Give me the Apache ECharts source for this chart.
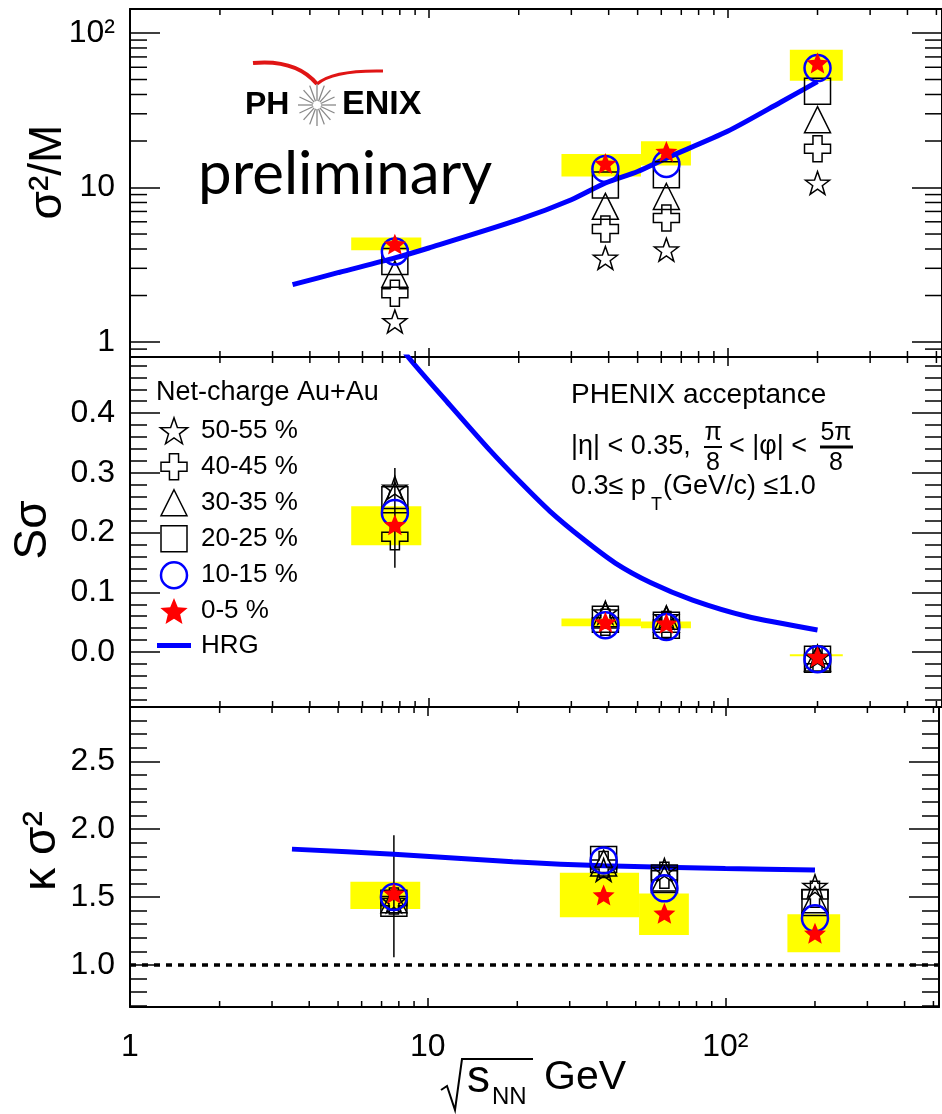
<!DOCTYPE html>
<html>
<head>
<meta charset="utf-8">
<script src="https://cdn.jsdelivr.net/npm/echarts@6/dist/echarts.min.js"></script>
<style>
html,body{margin:0;padding:0;background:#fff;}
#chart{width:942px;height:1114px;}
</style>
</head>
<body>
<div id="chart"></div>
<script>
// beam energies, GeV
const energies = [7.7, 39, 62.4, 200];
const centralities = ['50-55 %', '40-45 %', '30-35 %', '20-25 %', '10-15 %', '0-5 %'];

// sigma^2/M
const s2m_c50 = [1.36, 3.5, 3.96, 10.7];
const s2m_c40 = [2.07, 5.39, 6.35, 17.8];
const s2m_c30 = [2.75, 7.55, 8.75, 27.5];
const s2m_c20 = [3.32, 10.4, 12.1, 41.9];
const s2m_c10 = [3.85, 13.2, 14.2, 59.3];
const s2m_c0 = [4.3, 14.3, 17.1, 64];
const s2mSysLo = [3.92, 11.8, 13.9, 49.1];
const s2mSysHi = [4.75, 16.5, 19.9, 78];
const hrgX_s2m = [3.5, 5, 7.7, 10, 20, 30, 39, 50, 62.4, 100, 150, 200];
const hrgY_s2m = [2.35, 2.82, 3.5, 4.06, 6.19, 8.34, 10.7, 12.7, 15.5, 23.1, 35.5, 48.5];

// S sigma
const ss_c50 = [0.275, 0.066, 0.058, -0.008];
const ss_c40 = [0.193, 0.05, 0.046, -0.012];
const ss_c30 = [0.262, 0.062, 0.055, -0.01];
const ss_c20 = [0.255, 0.055, 0.045, -0.012];
const ss_c10 = [0.233, 0.045, 0.042, -0.012];
const ss_c0 = [0.213, 0.05, 0.048, -0.008];
const ssSysLo = [0.179, 0.043, 0.040, -0.0065];
const ssSysHi = [0.244, 0.056, 0.051, -0.0035];
const ssErr = [[7.7, 0.141, 0.308]];
const hrgX_ss = [7.9, 8.53, 11.6, 16.0, 20.2, 25.4, 32.7, 42.1, 55.4, 76.4, 115.7, 200];
const hrgY_ss = [0.52, 0.494, 0.417, 0.338, 0.285, 0.236, 0.19, 0.149, 0.116, 0.087, 0.060, 0.037];

// kappa sigma^2
const ks_c50 = [1.47, 1.70, 1.70, 1.58];
const ks_c40 = [1.47, 1.74, 1.66, 1.52];
const ks_c30 = [1.48, 1.75, 1.63, 1.48];
const ks_c20 = [1.454, 1.777, 1.64, 1.46];
const ks_c10 = [1.50, 1.77, 1.564, 1.343];
const ks_c0 = [1.527, 1.515, 1.38, 1.233];
const ksSysLo = [1.412, 1.351, 1.221, 1.093];
const ksSysHi = [1.613, 1.679, 1.527, 1.373];
const ksErr = [[7.7, 1.057, 1.956]];
const hrgX_ks = [3.5, 7.7, 19.3, 39, 100, 200];
const hrgY_ks = [1.853, 1.816, 1.76, 1.73, 1.711, 1.699];

// box widths along x (same for all panels)
const sysXLo = [5.5, 27.8, 51.3, 161.6];
const sysXHi = [9.44, 51.3, 75.4, 243];

// minor ticks on the log axes
const xMinorTicks = [2, 3, 4, 5, 6, 7, 8, 9, 20, 30, 40, 50, 60, 70, 80, 90, 200, 300, 400, 500];
const yMinorTicks = [0.9, 2, 3, 4, 5, 6, 7, 8, 9, 20, 30, 40, 50, 60, 70, 80, 90];

const FONT = '"Liberation Sans", Arial, sans-serif';
const X_MAX = 522;

const STAR = 'path://M0,-10L2.35,-3.24L9.51,-3.09L3.8,1.24L5.88,8.09L0,4L-5.88,8.09L-3.8,1.24L-9.51,-3.09L-2.35,-3.24Z';
const FSTAR = 'path://M0,-10L2.65,-3.64L9.51,-3.09L4.28,1.39L5.88,8.09L0,4.5L-5.88,8.09L-4.28,1.39L-9.51,-3.09L-2.65,-3.64Z';
const CROSS = 'path://M-3.5,-10L3.5,-10L3.5,-3.5L10,-3.5L10,3.5L3.5,3.5L3.5,10L-3.5,10L-3.5,3.5L-10,3.5L-10,-3.5L-3.5,-3.5Z';
const TRI = 'path://M0,-10L10,10L-10,10Z';
const SQR = 'path://M-10,-10L10,-10L10,10L-10,10Z';
const BAR = 'path://M0,0L34,0L34,5L0,5Z';

const open = {color: 'rgba(0,0,0,0)', borderColor: '#000', borderWidth: 1.5, opacity: 1};
const markers = [
  {symbol: STAR, size: 24, style: open},
  {symbol: CROSS, size: 26, style: open},
  {symbol: TRI, size: 26, style: open},
  {symbol: SQR, size: 26, style: open},
  {symbol: 'circle', size: 26, style: {color: 'rgba(0,0,0,0)', borderColor: '#0000ff', borderWidth: 2.5, opacity: 1}},
  {symbol: FSTAR, size: 22, style: {color: '#ff0000', borderWidth: 0, opacity: 1}}
];

const panels = [
  {vals: [s2m_c50, s2m_c40, s2m_c30, s2m_c20, s2m_c10, s2m_c0], lo: s2mSysLo, hi: s2mSysHi,
   hx: hrgX_s2m, hy: hrgY_s2m, err: [], refY: 1},
  {vals: [ss_c50, ss_c40, ss_c30, ss_c20, ss_c10, ss_c0], lo: ssSysLo, hi: ssSysHi,
   hx: hrgX_ss, hy: hrgY_ss, err: ssErr, refY: 0},
  {vals: [ks_c50, ks_c40, ks_c30, ks_c20, ks_c10, ks_c0], lo: ksSysLo, hi: ksSysHi,
   hx: hrgX_ks, hy: hrgY_ks, err: ksErr, refY: 1}
];

const grids = [
  {left: 130, top: 9, width: 818, height: 348},
  {left: 130, top: 357, width: 818, height: 350},
  {left: 130, top: 707, width: 818, height: 300}
];

function logLabel(v) {
  const e = Math.log10(v), r = Math.round(e);
  if (Math.abs(e - r) > 1e-6) return '';
  return r === 0 ? '1' : r === 1 ? '10' : '10²';
}
function linLabelFor(r) {
  return function (v) {
    if (Math.abs(v - r.min) < 1e-9 || Math.abs(v - r.max) < 1e-9) return '';
    return Math.abs(v * 10 - Math.round(v * 10)) < 1e-6 ? v.toFixed(1) : '';
  };
}

const tickStyle = {color: '#000', width: 1.5};
const lineAx = {show: true, onZero: false, lineStyle: {color: '#000', width: 2}};

const xAxis = [];
for (const pos of ['bottom', 'top']) {
  grids.forEach((g, i) => {
    xAxis.push({
      type: 'log', gridIndex: i, position: pos, min: 1, max: X_MAX,
      axisLine: lineAx,
      axisTick: {show: true, inside: true, length: 9, lineStyle: tickStyle},
      axisLabel: {show: pos === 'bottom' && i === 2, margin: 24, fontSize: 32, color: '#000', fontFamily: FONT, formatter: logLabel},
      splitLine: {show: false}
    });
  });
}

const yRanges = [
  {type: 'log', min: 0.8, max: 143},
  {type: 'value', min: -0.092, max: 0.494, splitNumber: 5},
  {type: 'value', min: 0.69, max: 2.9, splitNumber: 4}
];
const yAxis = [];
for (const pos of ['left', 'right']) {
  yRanges.forEach((r, i) => {
    yAxis.push(Object.assign({}, r, {
      gridIndex: i, position: pos,
      axisLine: lineAx,
      axisTick: {show: true, inside: true, length: 30, lineStyle: tickStyle},
      minorTick: {show: r.type === 'value', splitNumber: 5, length: 17, lineStyle: tickStyle},
      axisLabel: {show: pos === 'left', margin: 15, fontSize: 32, color: '#000', fontFamily: FONT,
        formatter: r.type === 'log' ? logLabel : linLabelFor(r)},
      splitLine: {show: false}
    }));
  });
}

function boxItem(params, api) {
  const p1 = api.coord([api.value(0), api.value(3)]);
  const p2 = api.coord([api.value(1), api.value(2)]);
  return {type: 'rect', shape: {x: p1[0], y: p1[1], width: p2[0] - p1[0], height: Math.max(p2[1] - p1[1], 2)},
    style: {fill: '#ffff00'}};
}
function errItem(params, api) {
  const a = api.coord([api.value(0), api.value(1)]);
  const b = api.coord([api.value(0), api.value(2)]);
  return {type: 'line', shape: {x1: a[0], y1: a[1], x2: b[0], y2: b[1]}, style: {stroke: '#000', lineWidth: 1.5}};
}
function xMinorItem(params, api) {
  const cs = params.coordSys;
  const x = api.coord([api.value(0), api.value(1)])[0];
  if (x > cs.x + cs.width - 1) return null;
  const b = cs.y + cs.height;
  return {type: 'group', children: [
    {type: 'line', shape: {x1: x, y1: b, x2: x, y2: b - 6}, style: {stroke: '#000', lineWidth: 1.5}},
    {type: 'line', shape: {x1: x, y1: cs.y, x2: x, y2: cs.y + 6}, style: {stroke: '#000', lineWidth: 1.5}}
  ]};
}
function yMinorItem(params, api) {
  const cs = params.coordSys;
  const y = api.coord([api.value(0), api.value(1)])[1];
  const r = cs.x + cs.width;
  return {type: 'group', children: [
    {type: 'line', shape: {x1: cs.x, y1: y, x2: cs.x + 17, y2: y}, style: {stroke: '#000', lineWidth: 1.5}},
    {type: 'line', shape: {x1: r - 17, y1: y, x2: r, y2: y}, style: {stroke: '#000', lineWidth: 1.5}}
  ]};
}

const series = [];
panels.forEach((p, i) => {
  const ax = {xAxisIndex: i, yAxisIndex: i};
  series.push(Object.assign({
    type: 'custom', name: 'minorX' + i, renderItem: xMinorItem, silent: true, z: 5,
    encode: {x: 0, y: 1}, data: xMinorTicks.map(v => [v, p.refY])
  }, ax));
  series.push(Object.assign({
    type: 'custom', name: 'sys' + i, renderItem: boxItem, silent: true, z: 1,
    encode: {x: [0, 1], y: [2, 3]},
    data: energies.map((e, k) => [sysXLo[k], sysXHi[k], p.lo[k], p.hi[k]])
  }, ax));
  if (p.err.length) {
    series.push(Object.assign({
      type: 'custom', name: 'err' + i, renderItem: errItem, silent: true, z: 2,
      encode: {x: 0, y: [1, 2]}, data: p.err
    }, ax));
  }
  const scat = (c) => Object.assign({
    type: 'scatter', name: centralities[c], symbol: markers[c].symbol, symbolSize: markers[c].size,
    symbolKeepAspect: true, itemStyle: markers[c].style, z: 3,
    data: energies.map((e, k) => [e, p.vals[c][k]])
  }, ax);
  [0, 1, 2, 3].forEach(c => series.push(scat(c)));
  const hrg = Object.assign({
    type: 'line', name: 'HRG', showSymbol: false, symbol: 'none', smooth: 0.25, clip: true, z: 3,
    lineStyle: {color: '#0000ff', width: 5}, itemStyle: {color: '#0000ff'},
    data: p.hx.map((x, k) => [x, p.hy[k]])
  }, ax);
  if (i === 2) {
    hrg.markLine = {silent: true, symbol: 'none', label: {show: false},
      lineStyle: {color: '#000', type: [6, 6], width: 3.5}, data: [{yAxis: 1}]};
  }
  series.push(hrg);
  [4, 5].forEach(c => series.push(scat(c)));
});
series.push({
  type: 'custom', name: 'minorY', renderItem: yMinorItem, silent: true, z: 5,
  xAxisIndex: 0, yAxisIndex: 0, encode: {x: 0, y: 1}, data: yMinorTicks.map(v => [10, v])
});

const legendData = centralities.map((n, c) => ({
  name: n, icon: markers[c].symbol,
  itemStyle: Object.assign({}, markers[c].style)
})).concat([{name: 'HRG', icon: BAR, itemStyle: {color: '#0000ff', borderWidth: 0}}]);

const txt = (x, y, text, size, extra) => Object.assign({
  type: 'text', x: x, y: y, silent: true,
  style: {text: text, font: size + 'px ' + FONT, fill: '#000', align: 'left', verticalAlign: 'middle'}
}, extra || {});
const ctxt = (x, y, text, font, rot) => ({
  type: 'text', x: x, y: y, silent: true, rotation: rot || 0,
  style: {text: text, font: font, fill: '#000', align: 'center', verticalAlign: 'middle'}
});

const graphic = [
  // axis titles
  ctxt(48, 172, 'σ²/M', '46px ' + FONT, Math.PI / 2),
  ctxt(33, 530, 'Sσ', '46px ' + FONT, Math.PI / 2),
  ctxt(42, 851, 'κ σ²', '46px ' + FONT, Math.PI / 2),
  // x title with radical
  {type: 'polyline', silent: true, shape: {points: [[441, 1090], [447, 1086], [455, 1110], [462, 1059], [533, 1059]]},
    style: {stroke: '#000', lineWidth: 2, fill: null}},
  txt(467, 1079, 's', 46),
  txt(492, 1097, 'NN', 24),
  txt(544, 1078, 'GeV', 41),
  // legend header
  txt(156, 393, 'Net-charge Au+Au', 27),
  // acceptance text
  txt(571, 395, 'PHENIX acceptance', 28),
  txt(571, 447, '|η| < 0.35,', 27),
  ctxt(713, 433, 'π', '25px ' + FONT),
  {type: 'line', silent: true, shape: {x1: 704, y1: 447, x2: 722, y2: 447}, style: {stroke: '#000', lineWidth: 2}},
  ctxt(713, 463, '8', '25px ' + FONT),
  txt(729, 447, '< |φ| <', 27),
  ctxt(836, 433, '5π', '25px ' + FONT),
  {type: 'line', silent: true, shape: {x1: 820, y1: 447, x2: 853, y2: 447}, style: {stroke: '#000', lineWidth: 3}},
  ctxt(836, 463, '8', '25px ' + FONT),
  txt(571, 487, '0.3≤ p', 27),
  txt(651, 505, 'T', 18),
  txt(663, 487, '(GeV/c) ≤1.0', 27),
  // logo
  txt(198, 175, 'preliminary', 60, {style: {text: 'preliminary', font: '60px Lato', fill: '#000', align: 'left', verticalAlign: 'middle'}}),
  txt(245, 105, 'PH', 32, {style: {text: 'PH', font: 'bold 32px ' + FONT, fill: '#000', align: 'left', verticalAlign: 'middle'}}),
  txt(342, 105, 'ENIX', 34, {style: {text: 'ENIX', font: 'bold 34px ' + FONT, fill: '#000', align: 'left', verticalAlign: 'middle'}}),
  {type: 'bezierCurve', silent: true, shape: {x1: 253, y1: 63, cpx1: 296, cpy1: 59, x2: 317, y2: 84},
    style: {stroke: '#e01515', lineWidth: 4, fill: null}},
  {type: 'bezierCurve', silent: true, shape: {x1: 317, y1: 84, cpx1: 333, cpy1: 70, x2: 383, y2: 71},
    style: {stroke: '#e01515', lineWidth: 3, fill: null}}
];
for (let k = 0; k < 16; k++) {
  const a = k * Math.PI / 8;
  graphic.push({type: 'line', silent: true,
    shape: {x1: 317 + 4 * Math.cos(a), y1: 105 + 4 * Math.sin(a), x2: 317 + 19 * Math.cos(a), y2: 105 + 21 * Math.sin(a)},
    style: {stroke: '#888', lineWidth: 1.3}});
}

const chart = echarts.init(document.getElementById('chart'), null, {renderer: 'canvas'});
chart.setOption({
  animation: false,
  backgroundColor: '#fff',
  textStyle: {fontFamily: FONT},
  grid: grids,
  xAxis: xAxis,
  yAxis: yAxis,
  legend: {
    orient: 'vertical', left: 157, top: 417, padding: 0, itemWidth: 34, itemHeight: 26, itemGap: 8.5,
    selectedMode: false, textStyle: {fontSize: 26, color: '#000', fontFamily: FONT, padding: [0, 0, 0, 5]},
    data: legendData
  },
  series: series,
  graphic: graphic
});
</script>
</body>
</html>
